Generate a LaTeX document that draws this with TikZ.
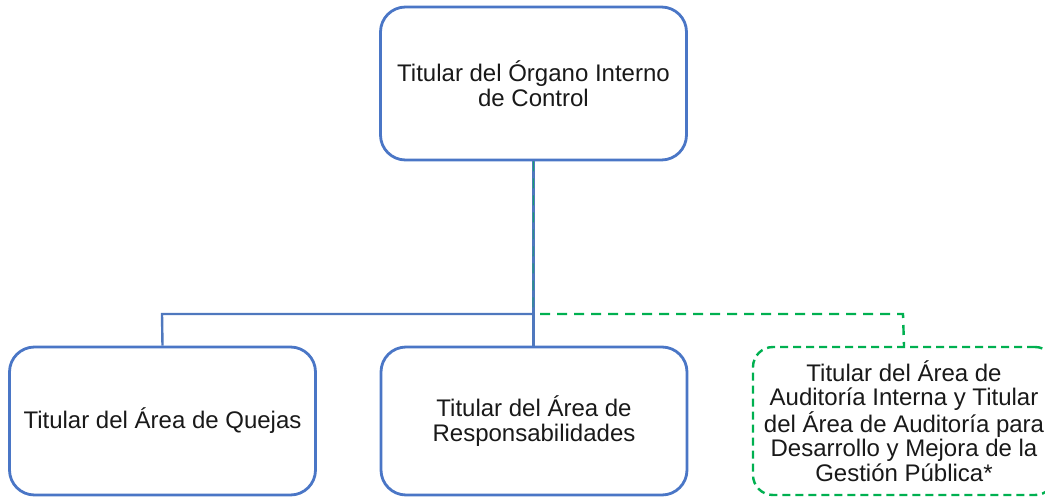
\documentclass[tikz,border=0pt]{standalone}
\usepackage{fontspec}
\setmainfont{Liberation Sans}
\definecolor{boxblue}{HTML}{4A76C6}
\definecolor{lineblue}{HTML}{4F78BE}
\definecolor{dashgreen}{HTML}{00B050}
\tikzset{
  orgbox/.style={draw=boxblue, line width=2.8pt, rounded corners=25pt, fill=white,
    minimum width=306pt, minimum height=150pt, align=center, inner sep=0pt,
    font=\fontsize{24}{25}\selectfont, text=black!90},
  dashbox/.style={orgbox, draw=dashgreen, line width=2.4pt, dash pattern=on 8pt off 5pt, rounded corners=20pt,
    minimum width=302pt, font=\fontsize{24}{24.5}\selectfont},
  conn/.style={draw=lineblue, line width=2.4pt},
  dconn/.style={draw=dashgreen, line width=2.4pt, dash pattern=on 10pt off 7pt},
}
\begin{document}
\begin{tikzpicture}[x=1pt,y=-1pt]
\useasboundingbox (0,0) rectangle (1045,498);
\clip (0,0) rectangle (1045,498);
\coordinate (j) at (533,314);
\coordinate (jl) at (162,314);
\coordinate (jr) at (903,314);
\coordinate (jg) at (540,314);
\node[orgbox, minimum height=153pt] (top) at (533.5,83.5) {Titular del Órgano Interno\\de Control};
\node[orgbox, minimum height=148pt] (left) at (162.5,421) {Titular del Área de Quejas};
\node[orgbox, minimum height=148pt] (mid) at (534,421) {Titular del Área de\\Responsabilidades};
\node[dashbox, minimum height=148pt] (right) at (904,421) {Titular del Área de\\Auditoría Interna y Titular\\del Área de Auditoría para\\Desarrollo y Mejora de la\\Gestión Pública*};
\draw[conn] (top.south) -- (top.south |- mid.north);
\draw[conn] (j) -- (jl) -- (left.north);
\draw[draw=dashgreen!70!lineblue, line width=0.9pt, dash pattern=on 10pt off 7pt] (top.south) -- (j);
\draw[dconn] (jg) -- (jr) -- (right.north);
\end{tikzpicture}
\end{document}
